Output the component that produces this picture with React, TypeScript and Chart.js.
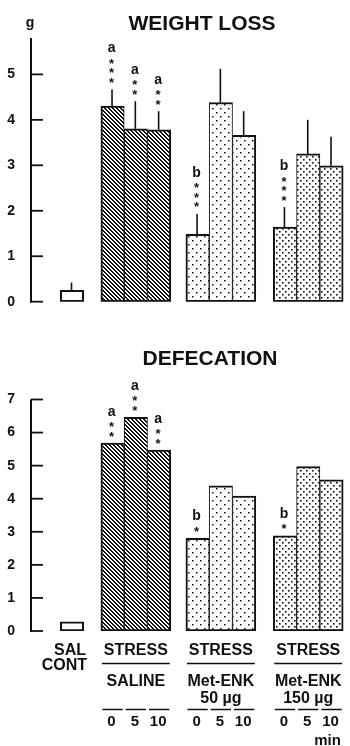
import React, { useEffect, useRef } from "react";
import { Chart, registerables } from "chart.js";

Chart.register(...registerables);

// ---------------- data ----------------
const GROUP_LINES = [["SAL", "CONT"], ["SALINE"], ["Met-ENK", "50 µg"], ["Met-ENK", "150 µg"]];
const TREATMENT = "STRESS";
const TIME_LABELS = ["0", "5", "10"];
const TIME_UNIT = "min";
const BAR_GROUP = [0, 1, 1, 1, 2, 2, 2, 3, 3, 3];
const BAR_TIME = [-1, 0, 1, 2, 0, 1, 2, 0, 1, 2];
const WEIGHT_LOSS = [0.25, 4.3, 3.8, 3.78, 1.48, 4.38, 3.66, 1.64, 3.25, 2.99];
const WEIGHT_LOSS_SEM = [0.17, 0.37, 0.61, 0.41, 0.45, 0.74, 0.53, 0.44, 0.75, 0.64];
const DEFECATION = [0.28, 5.68, 6.46, 5.47, 2.8, 4.39, 4.08, 2.88, 4.97, 4.57];
const SIG_LETTER = ["", "a", "a", "a", "b", "", "", "b", "", ""];
const WEIGHT_STARS = [0, 3, 2, 2, 3, 0, 0, 3, 0, 0];
const DEFECATION_STARS = [0, 2, 2, 2, 1, 0, 0, 1, 0, 0];
const WEIGHT_TICKS = [0, 1, 2, 3, 4, 5];
const DEFECATION_TICKS = [0, 1, 2, 3, 4, 5, 6, 7];

// ---------------- layout ----------------
const GROUP_START = [1.76, 3.5, 7.15, 10.9]; // in bar-width units
const X_MAX = 13.5;
const FONT = "'Liberation Sans', Arial, Helvetica, sans-serif";
const INK = "#111";

function barX(i: number) {
  return GROUP_START[BAR_GROUP[i]] + Math.max(0, BAR_TIME[i]);
}

function makeHatch(): CanvasPattern | string {
  const c = document.createElement("canvas");
  c.width = 4;
  c.height = 4;
  const g = c.getContext("2d");
  if (!g) return "#555";
  g.fillStyle = "#fff";
  g.fillRect(0, 0, 4, 4);
  g.fillStyle = "#111";
  for (let i = 0; i < 4; i++) {
    g.fillRect(i, i, 1, 1);
    g.fillRect((i + 1) % 4, i, 1, 1);
  }
  return g.createPattern(c, "repeat") || "#555";
}

function makeDots(size: number, dot: number): CanvasPattern | string {
  const c = document.createElement("canvas");
  c.width = size;
  c.height = size;
  const g = c.getContext("2d");
  if (!g) return "#ddd";
  g.fillStyle = "#fff";
  g.fillRect(0, 0, size, size);
  g.fillStyle = "#111";
  g.fillRect(0, 0, dot, dot);
  g.fillRect(size / 2, size / 2, dot, dot);
  return g.createPattern(c, "repeat") || "#ddd";
}

function drawAxis(chart: any, ticks: number[]) {
  const { ctx, chartArea } = chart;
  const y = chart.scales.y;
  ctx.save();
  ctx.strokeStyle = INK;
  ctx.lineWidth = 2;
  ctx.beginPath();
  ctx.moveTo(chartArea.left, y.getPixelForValue(0) + 1);
  ctx.lineTo(chartArea.left, chartArea.top);
  ctx.stroke();
  ctx.lineWidth = 1.8;
  ticks.forEach((t) => {
    const py = y.getPixelForValue(t);
    ctx.beginPath();
    ctx.moveTo(chartArea.left, py);
    ctx.lineTo(chartArea.left + 12, py);
    ctx.stroke();
  });
  ctx.restore();
}

function drawSig(chart: any, stars: number[], tops: number[]) {
  const { ctx } = chart;
  const meta = chart.getDatasetMeta(0);
  ctx.save();
  ctx.fillStyle = INK;
  ctx.textAlign = "center";
  ctx.textBaseline = "alphabetic";
  stars.forEach((n, i) => {
    if (!n && !SIG_LETTER[i]) return;
    const x = meta.data[i].x - 1;
    let c = tops[i] - 10;
    ctx.font = `bold 13px ${FONT}`;
    for (let k = 0; k < n; k++) {
      ctx.fillText("*", x, c + 7.5);
      if (k < n - 1) c -= 9.5;
    }
    if (SIG_LETTER[i]) {
      ctx.font = `bold 14px ${FONT}`;
      ctx.fillText(SIG_LETTER[i], x, c - 8);
    }
  });
  ctx.restore();
}

function drawTitle(chart: any, text: string, x: number, y: number) {
  const { ctx } = chart;
  ctx.save();
  ctx.fillStyle = INK;
  ctx.font = `bold 21px ${FONT}`;
  ctx.textAlign = "center";
  ctx.textBaseline = "alphabetic";
  ctx.fillText(text, x, y);
  ctx.restore();
}

function baseConfig(values: number[], yMax: number, padding: any, fills: any[], plugin: any) {
  return {
    type: "bar" as const,
    data: {
      datasets: [
        {
          data: values.map((v, i) => ({ x: barX(i), y: v })),
          backgroundColor: values.map((_, i) => fills[BAR_GROUP[i]]),
          borderColor: INK,
          borderWidth: (c: any) => {
            const i = c.dataIndex;
            const t = BAR_TIME[i];
            return {
              top: 2,
              bottom: 2,
              left: t <= 0 ? 2 : 1,
              right: t === 2 || t < 0 ? 2 : 1,
            };
          },
          borderSkipped: false,
          barPercentage: 1,
          categoryPercentage: 1,
        },
      ],
    },
    options: {
      responsive: false,
      animation: false,
      devicePixelRatio: 1,
      layout: { padding },
      plugins: { legend: { display: false }, tooltip: { enabled: false }, title: { display: false } },
      scales: {
        x: {
          type: "linear",
          min: 0,
          max: X_MAX,
          offset: false,
          display: false,
          ticks: { stepSize: 1 },
        },
        y: {
          min: 0,
          max: yMax,
          grid: { display: false },
          border: { display: false },
          ticks: {
            stepSize: 1,
            includeBounds: false,
            padding: 8,
            color: INK,
            font: { family: FONT, size: 14, weight: "bold" },
          },
          afterFit: (s: any) => {
            s.width = 31;
          },
        },
      },
    },
    plugins: [plugin],
  };
}

export default function App() {
  const topRef = useRef<HTMLCanvasElement>(null);
  const botRef = useRef<HTMLCanvasElement>(null);

  useEffect(() => {
    document.body.style.margin = "0";
    const fills = ["#fff", makeHatch(), makeDots(8, 1.5), makeDots(6, 1.6)];

    const topPlugin = {
      id: "weightDecor",
      afterDatasetsDraw(chart: any) {
        const { ctx } = chart;
        const y = chart.scales.y;
        const meta = chart.getDatasetMeta(0);
        // error bars
        ctx.save();
        ctx.strokeStyle = INK;
        ctx.lineWidth = 1.6;
        const errTops: number[] = [];
        WEIGHT_LOSS.forEach((v, i) => {
          const el = meta.data[i];
          const yt = y.getPixelForValue(v + WEIGHT_LOSS_SEM[i]);
          errTops.push(yt);
          ctx.beginPath();
          ctx.moveTo(el.x - 0.5, el.y);
          ctx.lineTo(el.x - 0.5, yt);
          ctx.stroke();
        });
        ctx.restore();
        drawAxis(chart, WEIGHT_TICKS);
        drawSig(chart, WEIGHT_STARS, errTops);
        drawTitle(chart, "WEIGHT LOSS", 202, 30);
        ctx.save();
        ctx.fillStyle = INK;
        ctx.font = `bold 14px ${FONT}`;
        ctx.textAlign = "center";
        ctx.fillText("g", 30, 27);
        ctx.restore();
      },
    };

    const botPlugin = {
      id: "defecDecor",
      afterDatasetsDraw(chart: any) {
        const { ctx } = chart;
        const meta = chart.getDatasetMeta(0);
        drawAxis(chart, DEFECATION_TICKS);
        drawSig(
          chart,
          DEFECATION_STARS,
          DEFECATION.map((_, i) => meta.data[i].y)
        );
        drawTitle(chart, "DEFECATION", 210, 45);

        ctx.save();
        ctx.fillStyle = INK;
        ctx.strokeStyle = INK;
        ctx.textBaseline = "alphabetic";
        // control group label
        ctx.font = `bold 16px ${FONT}`;
        ctx.textAlign = "right";
        const cx0 = meta.data[0].x;
        ctx.fillText(GROUP_LINES[0][0], cx0 + 14, 335);
        ctx.fillText(GROUP_LINES[0][1], cx0 + 15, 350);
        // stressed groups
        for (let g = 1; g < GROUP_LINES.length; g++) {
          const idx = BAR_GROUP.map((gg, i) => (gg === g ? i : -1)).filter((i) => i >= 0);
          const first = meta.data[idx[0]];
          const last = meta.data[idx[idx.length - 1]];
          const mid = meta.data[idx[Math.floor(idx.length / 2)]];
          const x0 = first.x - first.width / 2;
          const x1 = last.x + last.width / 2;
          ctx.font = `bold 16px ${FONT}`;
          ctx.textAlign = "center";
          ctx.fillText(TREATMENT, mid.x, 335);
          ctx.lineWidth = 1.5;
          ctx.beginPath();
          ctx.moveTo(x0 + 1, 343.5);
          ctx.lineTo(x1 - 1, 343.5);
          ctx.stroke();
          GROUP_LINES[g].forEach((line, k) => {
            ctx.fillText(line, mid.x, 366 + k * 17.3);
          });
          ctx.font = `bold 15px ${FONT}`;
          idx.forEach((i) => {
            const el = meta.data[i];
            ctx.beginPath();
            ctx.moveTo(el.x - el.width / 2 + 1.5, 389.5);
            ctx.lineTo(el.x + el.width / 2 - 1.5, 389.5);
            ctx.stroke();
            ctx.fillText(TIME_LABELS[BAR_TIME[i]], el.x - 1, 406);
          });
        }
        const lastEl = meta.data[meta.data.length - 1];
        ctx.font = `bold 15px ${FONT}`;
        ctx.textAlign = "center";
        ctx.fillText(TIME_UNIT, lastEl.x - 4, 425);
        ctx.restore();
      },
    };

    const c1 = new Chart(
      topRef.current as HTMLCanvasElement,
      baseConfig(WEIGHT_LOSS, 5.8, { top: 38, bottom: 18.3, left: 0, right: 4.5 }, fills, topPlugin) as any
    );
    const c2 = new Chart(
      botRef.current as HTMLCanvasElement,
      baseConfig(DEFECATION, 7, { top: 79.5, bottom: 115, left: 0, right: 4.5 }, fills, botPlugin) as any
    );
    return () => {
      c1.destroy();
      c2.destroy();
    };
  }, []);

  return (
    <div style={{ position: "relative", width: 350, height: 746, background: "#fff", overflow: "hidden" }}>
      <canvas ref={topRef} width={350} height={320} style={{ position: "absolute", left: 0, top: 0, display: "block" }} />
      <canvas ref={botRef} width={350} height={426} style={{ position: "absolute", left: 0, top: 320, display: "block" }} />
    </div>
  );
}
